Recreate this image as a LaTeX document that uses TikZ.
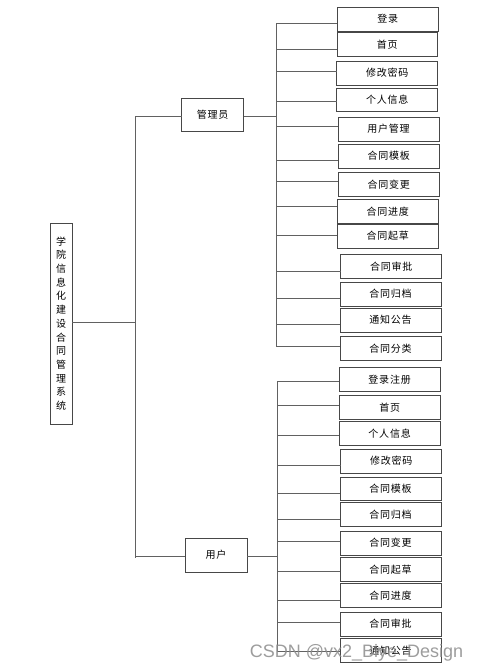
\documentclass[tikz,border=0pt]{standalone}
\usepackage{fontspec}
\newfontfamily\cjk[LetterSpace=8]{Noto Sans CJK SC}
\newfontfamily\wmfont{Liberation Sans}
\tikzset{
  leafbox/.style={draw=black!72, line width=0.9pt, rectangle, inner sep=0pt, outer sep=0pt, font=\cjk\fontsize{10}{12}\selectfont},
  conn/.style={draw=black!62, line width=0.9pt},
}
\newcommand\leafnode[8]{% name, xl, xr, yt, yb, line y, trunk x, text
  \pgfmathsetmacro\lfcx{(#2+#3)/2}%
  \pgfmathsetmacro\lfcy{(#4+#5)/2}%
  \pgfmathsetmacro\lfw{#3-#2}%
  \pgfmathsetmacro\lfh{#5-#4}%
  \node[leafbox, minimum width=\lfw pt, minimum height=\lfh pt] (#1) at (\lfcx,\lfcy) {#8};
  \coordinate (#1t) at (#7,#6);
  \draw[conn] (#1t) -- (#1t -| #1.west);
}
\begin{document}
\begin{tikzpicture}[x=1pt,y=-1pt]
\fill[white] (0,0) rectangle (480,672);
\useasboundingbox (0,0) rectangle (480,672);

% root
\node[leafbox, minimum width=22pt, minimum height=201pt, align=center,
      font=\cjk\fontsize{10}{13.7}\selectfont] (root) at (61,323.5)
  {学\\院\\信\\息\\化\\建\\设\\合\\同\\管\\理\\系\\统};
\coordinate (mid) at (135,322.7);
\coordinate (mtop) at (135,116.7);
\coordinate (mbot) at (135,558);
\draw[conn] (root.east |- mid) -- (mid);
\draw[conn] (mtop) -- (mbot);

% second level
\node[leafbox, minimum width=62pt, minimum height=33.7pt] (admin) at (212.7,114.85) {管理员};
\node[leafbox, minimum width=62pt, minimum height=33.7pt] (user) at (216,555.15) {用户};
\coordinate (ao) at (276,116.7);
\coordinate (uo) at (277.7,556.7);
\coordinate (ui) at (135,556.7);
\draw[conn] (mtop) -- (mtop -| admin.west);
\draw[conn] (admin.east |- ao) -- (ao);
\draw[conn] (ui) -- (ui -| user.west);
\draw[conn] (user.east |- uo) -- (uo);

% admin leaves
\leafnode{a1}{337.3}{438.3}{7.3}{31}{23.7}{276}{登录}
\leafnode{a2}{337}{437.7}{32.3}{56.7}{49.3}{276}{首页}
\leafnode{a3}{336.7}{437.7}{61.3}{85}{71.3}{276}{修改密码}
\leafnode{a4}{336.7}{437.7}{88}{111.7}{101}{276}{个人信息}
\leafnode{a5}{338}{439}{117}{141}{126}{276}{用户管理}
\leafnode{a6}{338.3}{439.3}{144}{168}{160.7}{276}{合同模板}
\leafnode{a7}{338.3}{439.3}{172.7}{196.3}{181.3}{276}{合同变更}
\leafnode{a8}{337.3}{438.3}{199.7}{223}{206.3}{276}{合同进度}
\leafnode{a9}{337.3}{438.3}{224}{248.3}{235.7}{276}{合同起草}
\leafnode{a10}{340.7}{441.7}{254.3}{278.3}{271}{276}{合同审批}
\leafnode{a11}{340}{441}{282}{306}{298.7}{276}{合同归档}
\leafnode{a12}{340}{441}{308}{332}{324.3}{276}{通知公告}
\leafnode{a13}{340}{441}{336.3}{360.3}{346.7}{276}{合同分类}
\draw[conn] (a1t) -- (a13t);

% user leaves
\leafnode{u1}{339.3}{440}{367.3}{391.3}{381}{277.7}{登录注册}
\leafnode{u2}{339.3}{440}{395.3}{419.3}{405.7}{277.7}{首页}
\leafnode{u3}{339.3}{440}{421.7}{445.7}{435.3}{277.7}{个人信息}
\leafnode{u4}{340.7}{441.7}{449.3}{473}{465.7}{277.7}{修改密码}
\leafnode{u5}{340}{441}{477}{500.7}{493.3}{277.7}{合同模板}
\leafnode{u6}{340}{441}{502.7}{526.3}{519.3}{277.7}{合同归档}
\leafnode{u7}{340}{441}{531.3}{555}{541.3}{277.7}{合同变更}
\leafnode{u8}{340}{441}{557.7}{581.7}{571}{277.7}{合同起草}
\leafnode{u9}{340}{441}{583.7}{607.7}{600}{277.7}{合同进度}
\leafnode{u10}{340}{441}{612.3}{636}{622.3}{277.7}{合同审批}
\leafnode{u11}{340}{441}{638.3}{662.7}{651.7}{277.7}{通知公告}
\draw[conn] (u1t) -- (u11t);

% watermark
\node[text=black!45, opacity=0.85, font=\wmfont\fontsize{18}{20}\selectfont, inner sep=0pt] (wm) at (356.5,652.5) {CSDN @vx2\_Biye\_Design};
\end{tikzpicture}
\end{document}
